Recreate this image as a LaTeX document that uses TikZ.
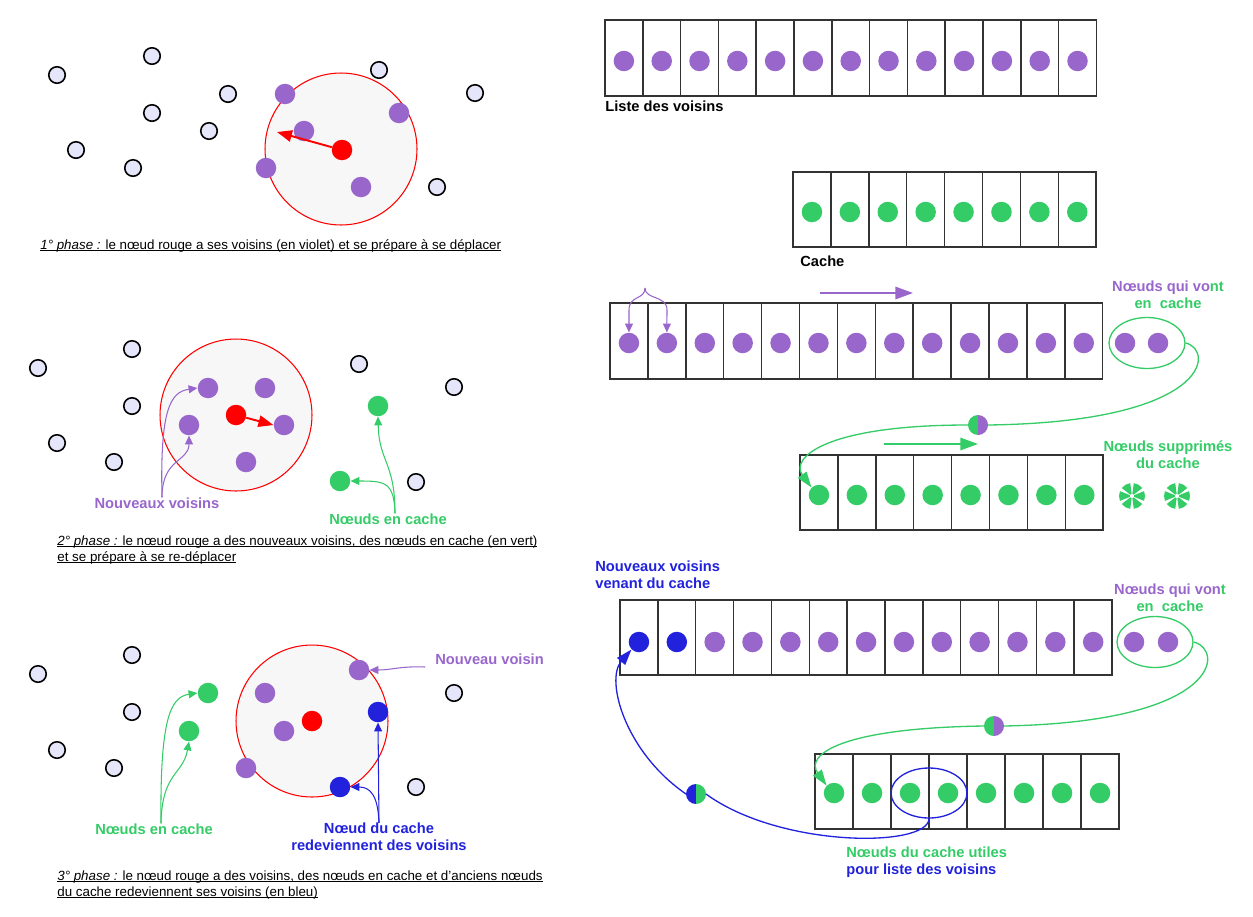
\documentclass[tikz,border=0pt]{standalone}
\usepackage{fontspec}
\setmainfont{Liberation Sans}
\usepackage{tikz}
\usetikzlibrary{positioning}
\usetikzlibrary{arrows.meta}
\usetikzlibrary{shapes.geometric}

\definecolor{violetn}{HTML}{9966CC}
\definecolor{vertn}{HTML}{33CC66}
\definecolor{bleun}{HTML}{2222DD}
\definecolor{lavande}{HTML}{E6E6FA}
\definecolor{zonegris}{HTML}{F7F7F7}
\definecolor{trait}{HTML}{333333}

% soulignement pres de la ligne de base
\newcommand{\souligne}[1]{\setbox0\hbox{#1}\rlap{\rule[-1.3pt]{\wd0}{0.5pt}}\box0}

\begin{document}
\begin{tikzpicture}[x=0.02cm,y=-0.02cm,
  autre/.style={circle,draw=black,line width=0.9pt,fill=lavande,inner sep=0pt,minimum size=0.33cm},
  point/.style={circle,inner sep=0pt,minimum size=0.41cm},
  demi/.style={circle,inner sep=0pt,outer sep=0pt,minimum size=0.4cm},
  portee/.style={circle,draw=red,line width=0.6pt,fill=zonegris,inner sep=0pt,minimum size=3.04cm},
  cellule/.style={draw=trait,line width=0.85pt},
  groupe/.style={ellipse,line width=0.75pt,inner sep=0pt,minimum width=1.52cm,minimum height=1.02cm},
  lien/.style={line width=0.6pt,-{Triangle[length=5pt,width=4.5pt]}},
  gros/.style={line width=1.1pt,-{Triangle[length=10pt,width=7pt]}},
  retour/.style={line width=0.75pt,-{Triangle[length=9pt,width=6pt]}},
  etiq/.style={font=\fontsize{8.35}{9.7}\selectfont\bfseries,inner sep=0pt,align=center},
  legende/.style={font=\fontsize{7.6}{9.1}\selectfont,inner sep=0pt,anchor=base west,align=left}]

\fill[white] (0,0) rectangle (1253,916);
\useasboundingbox (0,0) rectangle (1253,916);


% Phase 1: voisins du noeud rouge
\node[portee] (zone1) at (341,149) {};
\foreach \x/\y [count=\i] in {57/75,152/56,152/113,228/94,209/131,76/150,133/168,379/70,475/93,437/187}
  \node[autre] (pa\i) at (\x,\y) {};
\foreach \x/\y [count=\i] in {285/94,399/113,304/131,266/168,361/187}
  \node[point,fill=violetn] (pv\i) at (\x,\y) {};
\node[point,fill=red] (rouge1) at (342,150) {};
\coordinate (dep1) at (277,132);
\draw[gros,red,-{Triangle[length=8.5pt,width=6.5pt]}] (rouge1) -- (dep1);
\node[legende] (leg1) at (40,249) {\souligne{\textit{1° phase :} le nœud rouge a ses voisins (en violet) et se prépare à se déplacer}};


% Phase 2: nouveaux voisins et noeuds en cache
\node[portee] (zone2) at (236,415) {};
\foreach \x/\y [count=\i] in {38/368,132/349,132/406,57/443,114/462,359/364,454/387,416/482}
  \node[autre] (qa\i) at (\x,\y) {};
\foreach \x/\y [count=\i] in {208/388,265/388,189/425,284/425,246/462}
  \node[point,fill=violetn] (qv\i) at (\x,\y) {};
\node[point,fill=red] (rouge2) at (236,415) {};
\draw[gros,red,-{Triangle[length=8.5pt,width=6.5pt]}] (rouge2) -- (qv4.west);
\node[point,fill=vertn] (qc1) at (378,406) {};
\node[point,fill=vertn] (qc2) at (340,481) {};
\node[etiq,text=violetn] (nvois2) at (157,503) {Nouveaux voisins};
\node[etiq,text=vertn] (ncache2) at (388,519) {Nœuds en cache};
\draw[lien,violetn] ([xshift=0.1cm]nvois2.north) .. controls (160,410) and (170,392) .. (qv1.west);
\draw[lien,violetn] ([xshift=0.1cm]nvois2.north) .. controls (162,458) and (189,462) .. (qv3.south);
\draw[lien,vertn] ([xshift=0.14cm]ncache2.north) .. controls (395,462) and (379,462) .. (qc1.south);
\draw[lien,vertn] ([xshift=0.14cm]ncache2.north) .. controls (394,482) and (385,481) .. (qc2.east);
\node[legende] (leg2) at (57,561) {\souligne{\textit{2° phase :} le nœud rouge a des nouveaux voisins, des nœuds en cache (en vert)}\\\souligne{et se prépare à se re-déplacer}};


% Phase 3: des noeuds du cache redeviennent voisins
\node[portee] (zone3) at (312,721) {};
\foreach \x/\y [count=\i] in {38/674,132/655,132/712,57/750,114/768,454/693,416/787}
  \node[autre] (ra\i) at (\x,\y) {};
\foreach \x/\y [count=\i] in {359/670,265/693,284/731,246/768}
  \node[point,fill=violetn] (rv\i) at (\x,\y) {};
\node[point,fill=red] (rouge3) at (312,721) {};
\node[point,fill=bleun] (rb1) at (378,712) {};
\node[point,fill=bleun] (rb2) at (340,787) {};
\node[point,fill=vertn] (rc1) at (208,693) {};
\node[point,fill=vertn] (rc2) at (189,731) {};
\node[etiq,text=violetn,anchor=west] (nvois3) at (435,659) {Nouveau voisin};
\node[etiq,text=vertn] (ncache3) at (154,829) {Nœuds en cache};
\node[etiq,text=bleun] (nredev3) at (379,837) {Nœud du cache\\redeviennent des voisins};
\draw[lien,violetn] ([xshift=-0.2cm,yshift=-0.16cm]nvois3.west) .. controls (400,666) and (392,670) .. (rv1.east);
\draw[lien,vertn] ([xshift=0.14cm]ncache3.north) .. controls (160,720) and (170,697) .. (rc1.west);
\draw[lien,vertn] ([xshift=0.14cm]ncache3.north) .. controls (162,772) and (183,775) .. (rc2.south);
\draw[lien,bleun] (nredev3.north) -- (rb1.south);
\draw[lien,bleun] (nredev3.north) .. controls (378,795) and (370,787) .. (rb2.east);
\node[legende] (leg3) at (57,896) {\souligne{\textit{3° phase :} le nœud rouge a des voisins, des nœuds en cache et d'anciens nœuds}\\\souligne{du cache redeviennent ses voisins (en bleu)}};


% Liste des voisins
\foreach \i in {0,...,12}
  \draw[cellule] ({605+37.8*\i},20) rectangle ++(37.8,76);
\foreach \i in {1,...,13}
  \node[point,fill=violetn] (lv\i) at ({586.1+37.8*\i},61) {};
\node[etiq,anchor=west] (tliste) at (605,106) {Liste des voisins};


% Cache
\foreach \i in {0,...,7}
  \draw[cellule] ({793+37.9*\i},172) rectangle ++(37.9,75);
\foreach \i in {1,...,8}
  \node[point,fill=vertn] (ca\i) at ({774.05+37.9*\i},212) {};
\node[etiq,anchor=west] (tcache) at (800,261) {Cache};


% Decalage: liste -> cache
\foreach \i in {0,...,12}
  \draw[cellule] ({610+37.9*\i},303) rectangle ++(37.9,76);
\foreach \i in {1,...,13}
  \node[point,fill=violetn] (m\i) at ({591.05+37.9*\i},343) {};
\node[point,fill=violetn] (mx1) at (1125,343) {};
\node[point,fill=violetn] (mx2) at (1158,343) {};
\node[groupe,draw=vertn] (grp1) at (1147,343) {};
\coordinate (acc1) at (645,288);
\draw[lien,violetn] (acc1) .. controls (645,300) and (629,295) .. (629,310) -- (m1.north);
\draw[lien,violetn] (acc1) .. controls (645,300) and (667,295) .. (667,310) -- (m2.north);
\coordinate (fv1) at (820,293);
\coordinate (fv2) at (913,293);
\draw[gros,violetn] (fv1) -- (fv2);
\node[etiq,text=violetn] (tvont1) at (1168,295) {Nœuds qui vo\textcolor{vertn}{nt}\\\textcolor{vertn}{en~ cache}};

\foreach \i in {0,...,7}
  \draw[cellule] ({800+37.9*\i},455) rectangle ++(37.9,75);
\foreach \i in {1,...,8}
  \node[point,fill=vertn] (k\i) at ({781.05+37.9*\i},495) {};
\node[demi] (h1) at (978,425) {};
\fill[vertn] (h1.north) arc[start angle=90,end angle=270,radius=0.2cm] -- cycle;
\fill[violetn] (h1.south) arc[start angle=-90,end angle=90,radius=0.2cm] -- cycle;
\draw[vertn,line width=0.75pt] (grp1.east) .. controls (1215,350) and (1210,422) .. (h1.east);
\draw[retour,vertn] (h1.west) .. controls (825,425) and (790,458) .. (k1.north west);
\coordinate (fg1) at (884,444);
\coordinate (fg2) at (978,444);
\draw[gros,vertn] (fg1) -- (fg2);
\node[etiq,text=vertn] (tsupp) at (1168,455) {Nœuds supprimés\\du cache};

% Noeuds supprimes du cache
\foreach \cx in {1132,1177} \foreach \a in {0,60,...,300}
{
\fill[vertn] ([shift={(\a-22:0.045cm)}]\cx,496) -- ([shift={(\a-22:0.26cm)}]\cx,496)
  arc[start angle=\a-22,end angle=\a+22,radius=0.26cm] -- ([shift={(\a+22:0.045cm)}]\cx,496) -- cycle;
}


% Retour du cache vers la liste
\foreach \i in {0,...,12}
  \draw[cellule] ({620+37.85*\i},600) rectangle ++(37.85,75);
\foreach \i in {1,...,13}
{
\pgfmathparse{\i<3 ? "bleun" : "violetn"}
\edef\couleur{\pgfmathresult}
\node[point,fill=\couleur] (n\i) at ({601.1+37.85*\i},642) {};
}
\node[point,fill=violetn] (nx1) at (1134,642) {};
\node[point,fill=violetn] (nx2) at (1168,642) {};
\node[groupe,draw=vertn] (grp2) at (1155,642) {};
\node[etiq,text=violetn] (tvont2) at (1170,598) {Nœuds qui von\textcolor{vertn}{t}\\\textcolor{vertn}{en~ cache}};
\node[etiq,text=bleun,anchor=west,align=left] (tvenant) at (595,575) {Nouveaux voisins\\venant du cache};

\foreach \i in {0,...,7}
  \draw[cellule] ({815+38*\i},754) rectangle ++(38,75);
\foreach \i in {1,...,8}
  \node[point,fill=vertn] (u\i) at ({796+38*\i},793) {};
\node[groupe,draw=bleun,minimum height=1.0cm] (grp3) at (929,793) {};
\node[demi] (h2) at (994,726) {};
\fill[vertn] (h2.north) arc[start angle=90,end angle=270,radius=0.2cm] -- cycle;
\fill[violetn] (h2.south) arc[start angle=-90,end angle=90,radius=0.2cm] -- cycle;
\draw[vertn,line width=0.75pt] (grp2.east) .. controls (1225,650) and (1220,722) .. (h2.east);
\draw[retour,vertn] (h2.west) .. controls (840,728) and (805,755) .. (u1.north west);
\node[demi] (h3) at (696,794) {};
\fill[bleun] (h3.north) arc[start angle=90,end angle=270,radius=0.2cm] -- cycle;
\fill[vertn] (h3.south) arc[start angle=-90,end angle=90,radius=0.2cm] -- cycle;
\draw[bleun,line width=0.75pt] (grp3.south) .. controls (928,848) and (780,848) .. (h3.east);
\draw[retour,bleun] (h3.west) .. controls (625,752) and (605,680) .. (n1.south west);
\node[etiq,anchor=west,align=left] (tutiles) at (846,862) {\textcolor{vertn}{Nœuds du cache utiles}\\\textcolor{bleun}{pour liste des voisins}};

\end{tikzpicture}
\end{document}
